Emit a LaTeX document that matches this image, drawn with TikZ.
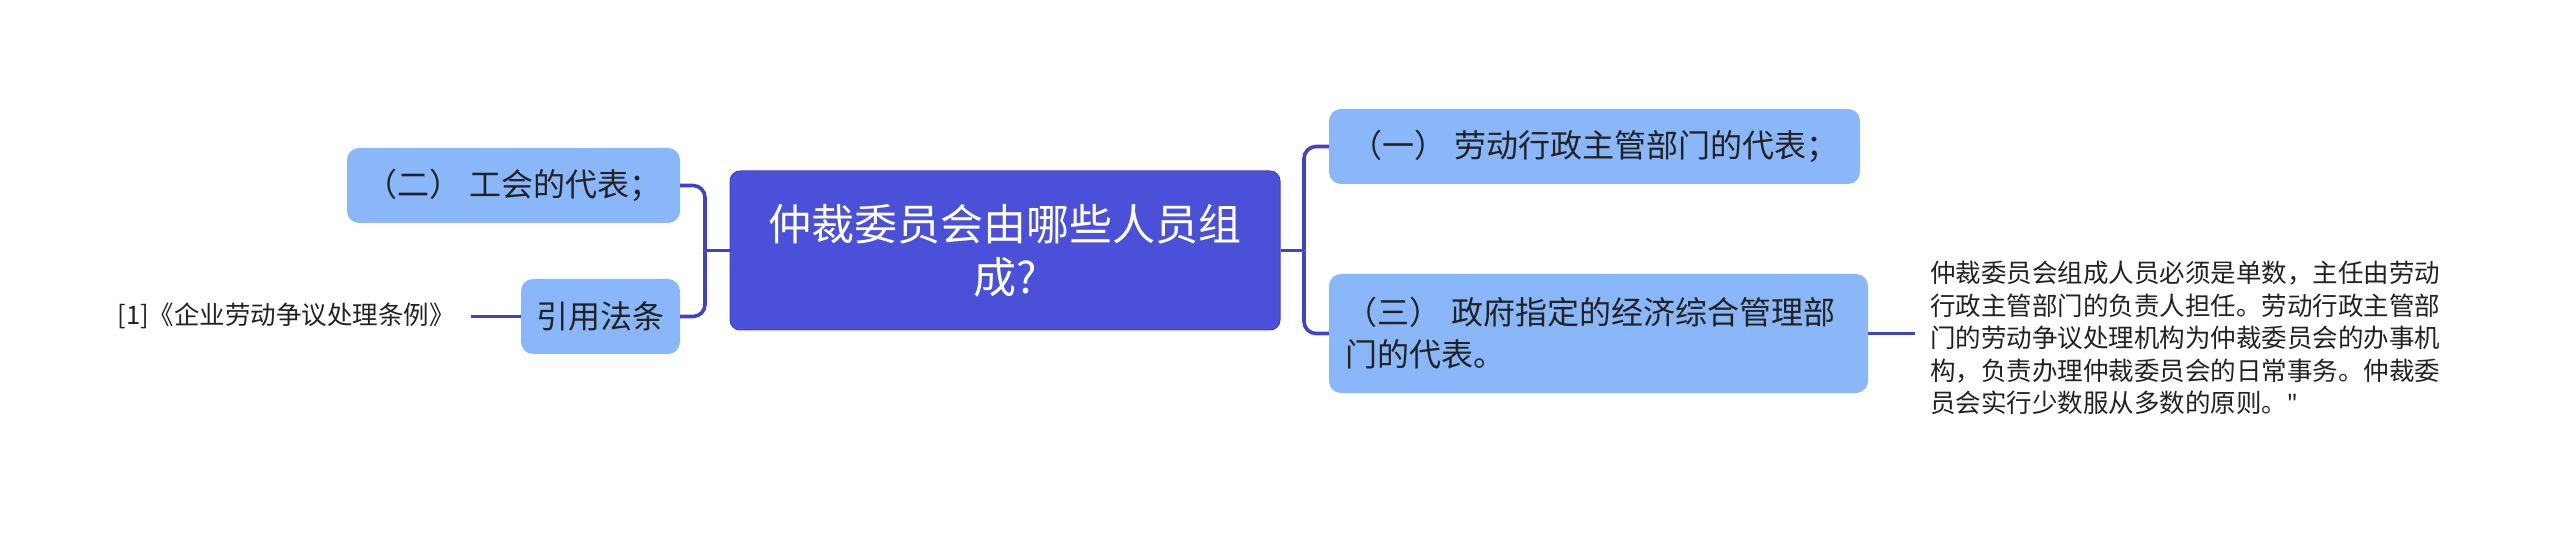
\documentclass[tikz,border=0pt]{standalone}
\usepackage{fontspec}
\setmainfont{Noto Sans CJK SC}
\newfontfamily\latinq{Noto Sans}
\usetikzlibrary{positioning}
\definecolor{mainc}{HTML}{4A50D8}
\definecolor{linec}{HTML}{3E43C9}
\definecolor{subc}{HTML}{8AB6FA}
\definecolor{txt}{HTML}{222222}
\tikzset{
  rootbox/.style={draw=linec, line width=1pt, fill=mainc, rounded corners=10pt, text=white, align=center,
    font=\fontsize{43}{53}\selectfont, inner sep=0pt},
  subbox/.style={fill=subc, rounded corners=12pt, text=txt, inner sep=0pt,
    font=\fontsize{32}{42}\selectfont},
  leaftext/.style={text=txt, inner sep=0pt, font=\fontsize{25.5}{32.5}\selectfont},
  conn/.style={draw=linec, line width=3.6pt, rounded corners=12pt}
}
\begin{document}
\begin{tikzpicture}[x=1pt,y=-1pt]
\useasboundingbox (0,0) rectangle (2560,537);
\node[rootbox, minimum width=550pt, minimum height=159pt] (c) at (1005,250.5) {仲裁委员会由哪些人员组\\成?};
\node[subbox, minimum width=531pt, minimum height=75pt] (n1) at (1594.5,146.5) {（一） 劳动行政主管部门的代表；};
\node[subbox, minimum width=539pt, minimum height=119pt, text width=507pt, align=left] (n3) at (1598.5,333.5) {（三） 政府指定的经济综合管理部\\门的代表。};
\node[subbox, minimum width=333pt, minimum height=75pt] (n2) at (513.5,185.5) {（二） 工会的代表；};
\node[subbox, minimum width=159pt, minimum height=75pt] (law) at (600.5,316.5) {引用法条};
\node[leaftext, anchor=east] (lawt) at (455,316) {[1]《企业劳动争议处理条例》};
\node[leaftext, anchor=west, text width=530pt, align=left] (note) at (1930,338) {仲裁委员会组成人员必须是单数，主任由劳动\\行政主管部门的负责人担任。劳动行政主管部\\门的劳动争议处理机构为仲裁委员会的办事机\\构，负责办理仲裁委员会的日常事务。仲裁委\\员会实行少数服从多数的原则。{\latinq"}};
\coordinate (jr) at (1304,250.5);
\coordinate (jl) at (705,250.5);
\coordinate (lawend) at (471,316.5);
\coordinate (noteend) at (1915,333.5);
\draw[conn] (c.east) -- (jr);
\draw[conn] (jr) |- (n1.west);
\draw[conn] (jr) |- (n3.west);
\draw[conn] (c.west) -- (jl);
\draw[conn] (jl) |- (n2.east);
\draw[conn] (jl) |- (law.east);
\draw[conn] (law.west) -- (lawend);
\draw[conn] (n3.east) -- (noteend);
\end{tikzpicture}
\end{document}
